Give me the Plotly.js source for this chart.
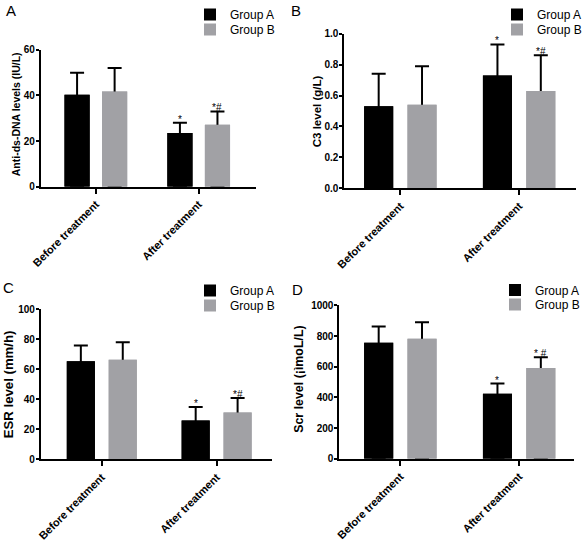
<!DOCTYPE html>
<html>
<head>
<meta charset="utf-8">
<script src="https://cdn.plot.ly/plotly-3.0.1.min.js"></script>
<style>
html,body{margin:0;padding:0;background:#fff;}
#chart{width:587px;height:543px;}
</style>
</head>
<body>
<div id="chart"></div>
<script>
// ---- data ----
const categories = ["Before treatment", "After treatment"];
const seriesNames = ["Group A", "Group B"];

const antiDsDnaA = [40.3, 23.5];
const antiDsDnaA_sd = [9.7, 4.5];
const antiDsDnaB = [41.8, 27.2];
const antiDsDnaB_sd = [10.3, 5.8];

const c3A = [0.53, 0.73];
const c3A_sd = [0.21, 0.20];
const c3B = [0.54, 0.63];
const c3B_sd = [0.25, 0.23];

const esrA = [65.4, 26.0];
const esrA_sd = [10.6, 9.0];
const esrB = [66.5, 31.3];
const esrB_sd = [11.7, 9.7];

const scrA = [757, 425];
const scrA_sd = [106, 66];
const scrB = [783, 592];
const scrB_sd = [108, 70];

const yTitles = ["Anti-ds-DNA levels (IU/L)", "C3 level (g/L)", "ESR level (mm/h)", "Scr level (¡ìmoL/L)"];
const panelLetters = ["A", "B", "C", "D"];
const sigA = ["", "*"];
const sigB = ["", "*#"];
const sigBD = ["", "* #"];

// ---- layout helpers ----
const W = 587, H = 543;
const fx = px => px / W;
const fy = py => 1 - py / H;
const BARGAP = 0.27, BARGROUPGAP = 0.33;
const colA = "#000000", colB = "#a1a1a5";
const fontFam = "Liberation Sans, Arial, sans-serif";

const panels = [
  {a: antiDsDnaA, asd: antiDsDnaA_sd, b: antiDsDnaB, bsd: antiDsDnaB_sd, sigb: sigB,
   xd: [41, 256], yd: [49, 186], xr: [-0.534, 1.553], yr: [0, 60], dtick: 20, fmt: "",
   title: [16, 113.5, 10.5], letter: [11, 10], legX: 190, legY: [14, 29.5]},
  {a: c3A, asd: c3A_sd, b: c3B, bsd: c3B_sd, sigb: sigB,
   xd: [345, 577], yd: [32.7, 187.7], xr: [-0.471, 1.479], yr: [0, 1], dtick: 0.2, fmt: ".1f",
   title: [317.5, 110.5, 11.5], letter: [297, 10], legX: 498, legY: [13.5, 29.5]},
  {a: esrA, asd: esrA_sd, b: esrB, bsd: esrB_sd, sigb: sigB,
   xd: [41, 272], yd: [309, 459.3], xr: [-0.530, 1.478], yr: [0, 100], dtick: 20, fmt: "",
   title: [8.5, 383.5, 13.2], letter: [9, 287], legX: 190, legY: [290.5, 305.5]},
  {a: scrA, asd: scrA_sd, b: scrB, bsd: scrB_sd, sigb: sigBD,
   xd: [340, 575], yd: [305, 458.7], xr: [-0.513, 1.462], yr: [0, 1000], dtick: 200, fmt: "",
   title: [299.5, 378.5, 12.4], letter: [298, 289], legX: 495, legY: [290, 304.5]}
];

const data = [];
const overlayData = [];
const layout = {
  width: W, height: H,
  margin: {l: 0, r: 0, t: 0, b: 0},
  paper_bgcolor: "#fff", plot_bgcolor: "rgba(0,0,0,0)",
  barmode: "group", bargap: BARGAP, bargroupgap: BARGROUPGAP,
  font: {family: fontFam, color: "#000"},
  annotations: [],
  showlegend: true
};
const legName = k => (k === 1 ? "legend" : "legend" + k);

panels.forEach((p, i) => {
  const n = i === 0 ? "" : String(i + 1);
  const xa = "x" + n, ya = "y" + n;
  const oyNum = 5 + i, oya = "y" + oyNum;
  const errStyle = {type: "data", symmetric: false, color: "#000", thickness: 2, width: 7};
  const series = [
    {name: seriesNames[0], y: p.a, sd: p.asd, color: colA},
    {name: seriesNames[1], y: p.b, sd: p.bsd, color: colB}
  ];
  series.forEach((s, j) => {
    const lg = legName(2 * i + j + 1);
    // bars carrying the (upward) error bars
    data.push({
      type: "bar", name: s.name, x: categories, y: s.y,
      xaxis: xa, yaxis: ya, legend: lg,
      marker: {color: s.color, line: {width: 0}},
      error_y: Object.assign({array: s.sd, arrayminus: s.y}, errStyle),
      hoverinfo: "none"
    });
    // same bars drawn again on an overlaid axis so the lower part of the error bar is hidden
    overlayData.push({
      type: "bar", name: s.name, x: categories, y: s.y,
      xaxis: xa, yaxis: oya, showlegend: false,
      marker: {color: s.color, line: {width: 0}},
      hoverinfo: "none"
    });
    layout[lg] = {
      x: fx(p.legX), y: fy(p.legY[j]), xanchor: "left", yanchor: "middle",
      xref: "paper", yref: "paper",
      bgcolor: "rgba(0,0,0,0)", borderwidth: 0,
      font: {family: fontFam, size: 12, color: "#000"},
      tracegroupgap: 0, itemwidth: 30
    };
  });

  layout["xaxis" + n] = {
    domain: [fx(p.xd[0]), fx(p.xd[1])],
    range: p.xr, anchor: ya, type: "category",
    showline: true, linecolor: "#000", linewidth: 2,
    ticks: "outside", ticklen: 5, tickwidth: 2, tickcolor: "#000",
    tickangle: -45,
    tickfont: {family: fontFam, size: 11, weight: "bold", color: "#000"},
    showgrid: false, zeroline: false, fixedrange: true
  };
  layout["yaxis" + n] = {
    domain: [fy(p.yd[1]), fy(p.yd[0])],
    range: p.yr, anchor: xa, dtick: p.dtick, tick0: 0,
    tickformat: p.fmt,
    showline: true, linecolor: "#000", linewidth: 2,
    ticks: "outside", ticklen: 3, tickwidth: 2, tickcolor: "#000",
    ticklabelstandoff: -1,
    tickfont: {family: fontFam, size: 10, weight: "bold", color: "#000"},
    showgrid: false, zeroline: false, fixedrange: true
  };
  layout["yaxis" + oyNum] = {
    overlaying: ya, anchor: xa, range: p.yr, visible: false,
    showgrid: false, zeroline: false, fixedrange: true
  };

  // y-axis title
  layout.annotations.push({
    xref: "paper", yref: "paper", x: fx(p.title[0]), y: fy(p.title[1]),
    xanchor: "center", yanchor: "middle", showarrow: false, textangle: -90,
    text: yTitles[i], font: {family: fontFam, size: p.title[2], weight: "bold", color: "#000"}
  });

  // panel letter
  layout.annotations.push({
    xref: "paper", yref: "paper", x: fx(p.letter[0]), y: fy(p.letter[1]),
    xanchor: "center", yanchor: "middle", showarrow: false,
    text: panelLetters[i], font: {family: fontFam, size: 15, color: "#000"}
  });

  // significance marks
  const ppu = (p.xd[1] - p.xd[0]) / (p.xr[1] - p.xr[0]);
  const off = (1 - BARGAP) / 4 * ppu;
  categories.forEach((c, k) => {
    if (sigA[k]) layout.annotations.push({
      xref: xa, yref: ya, x: c, y: p.a[k] + p.asd[k], xshift: -off, yshift: -4,
      xanchor: "center", yanchor: "bottom", showarrow: false,
      text: sigA[k], font: {family: fontFam, size: 10, color: "#000"}
    });
    if (p.sigb[k]) layout.annotations.push({
      xref: xa, yref: ya, x: c, y: p.b[k] + p.bsd[k], xshift: off, yshift: -4,
      xanchor: "center", yanchor: "bottom", showarrow: false,
      text: p.sigb[k], font: {family: fontFam, size: 10, color: "#000"}
    });
  });
});

Plotly.newPlot("chart", data.concat(overlayData), layout, {staticPlot: true, displayModeBar: false});
</script>
</body>
</html>
